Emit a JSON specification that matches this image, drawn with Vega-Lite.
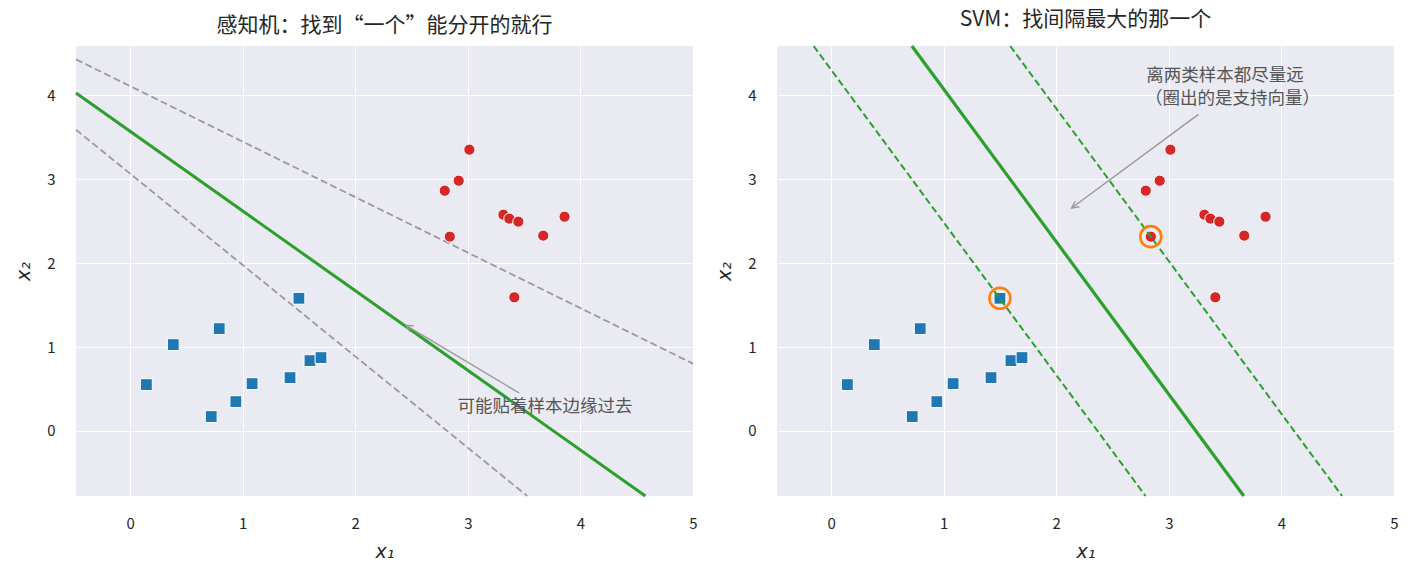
{
  "$schema": "https://vega.github.io/schema/vega-lite/v6.json",
  "background": "white",
  "padding": {"left": 14, "top": 8, "right": 5, "bottom": 5},
  "spacing": 84,
  "bounds": "flush",
  "datasets": {
    "blue": [
      {"x1": 0.145, "x2": 0.553},
      {"x1": 0.384, "x2": 1.03},
      {"x1": 0.792, "x2": 1.22},
      {"x1": 0.721, "x2": 0.172},
      {"x1": 0.94, "x2": 0.35},
      {"x1": 1.084, "x2": 0.565},
      {"x1": 1.421, "x2": 0.636},
      {"x1": 1.598, "x2": 0.839},
      {"x1": 1.696, "x2": 0.875},
      {"x1": 1.5, "x2": 1.582}
    ],
    "red": [
      {"x1": 3.014, "x2": 3.354},
      {"x1": 2.919, "x2": 2.984},
      {"x1": 2.795, "x2": 2.865},
      {"x1": 3.316, "x2": 2.579},
      {"x1": 3.369, "x2": 2.532},
      {"x1": 3.449, "x2": 2.496},
      {"x1": 3.859, "x2": 2.555},
      {"x1": 3.67, "x2": 2.329},
      {"x1": 2.84, "x2": 2.317},
      {"x1": 3.413, "x2": 1.594}
    ],
    "lines": [
      {"name": "perc_main", "x1": -0.48, "x2": 4.029},
      {"name": "perc_main", "x1": 4.577, "x2": -0.775},
      {"name": "perc_up", "x1": -0.48, "x2": 4.43},
      {"name": "perc_up", "x1": 5.0, "x2": 0.803},
      {"name": "perc_low", "x1": -0.48, "x2": 3.592},
      {"name": "perc_low", "x1": 3.528, "x2": -0.775},
      {"name": "svm_main", "x1": 0.718, "x2": 4.59},
      {"name": "svm_main", "x1": 3.666, "x2": -0.775},
      {"name": "svm_m1", "x1": -0.155, "x2": 4.59},
      {"name": "svm_m1", "x1": 2.793, "x2": -0.775},
      {"name": "svm_m2", "x1": 1.591, "x2": 4.59},
      {"name": "svm_m2", "x1": 4.539, "x2": -0.775}
    ],
    "sv": [
      {"x1": 1.5, "x2": 1.582},
      {"x1": 2.84, "x2": 2.317}
    ],
    "arrows": [
      {"panel": "left", "x1": 3.456, "x2": 0.453, "hx": 2.451, "hy": 1.26},
      {"panel": "right", "x1": 3.263, "x2": 3.775, "hx": 2.137, "hy": 2.658}
    ],
    "notes": [
      {"panel": "left", "x1": 2.908, "x2": 0.282, "text": "可能贴着样本边缘过去"},
      {"panel": "right", "x1": 3.50, "x2": 4.238, "text": "离两类样本都尽量远"},
      {"panel": "right", "x1": 3.565, "x2": 3.964, "text": "（圈出的是支持向量）"}
    ]
  },
  "hconcat": [
    {
      "width": 617,
      "height": 450,
      "title": "感知机：找到“一个”能分开的就行",
      "encoding": {
        "x": {"field": "x1", "type": "quantitative", "title": "x₁",
              "scale": {"domain": [-0.48, 5.0], "nice": false, "zero": false},
              "axis": {"values": [0, 1, 2, 3, 4, 5]}},
        "y": {"field": "x2", "type": "quantitative", "title": "x₂",
              "scale": {"domain": [-0.775, 4.59], "nice": false, "zero": false},
              "axis": {"values": [0, 1, 2, 3, 4]}}
      },
      "layer": [
        {
          "data": {"name": "lines"},
          "transform": [{"filter": "datum.name == 'perc_up' || datum.name == 'perc_low'"}],
          "mark": {"type": "line", "color": "#9a9a9a", "strokeWidth": 1.8, "strokeDash": [7, 3.5]},
          "encoding": {"detail": {"field": "name"}}
        },
        {
          "data": {"name": "lines"},
          "transform": [{"filter": "datum.name == 'perc_main'"}],
          "mark": {"type": "line", "color": "#2ca02c", "strokeWidth": 3},
          "encoding": {}
        },
        {
          "data": {"name": "blue"},
          "mark": {"type": "point", "shape": "square", "filled": true, "size": 140, "color": "#1f77b4", "stroke": "white", "strokeWidth": 1, "opacity": 1}
        },
        {
          "data": {"name": "red"},
          "mark": {"type": "point", "shape": "circle", "filled": true, "size": 125, "color": "#d62728", "stroke": "white", "strokeWidth": 1, "opacity": 1}
        },
        {
          "data": {"name": "arrows"},
          "transform": [{"filter": "datum.panel == 'left'"}],
          "mark": {"type": "rule", "color": "#999999", "strokeWidth": 1.4},
          "encoding": {"x2": {"field": "hx"}, "y2": {"field": "hy"}}
        },
        {
          "data": {"name": "arrows"},
          "transform": [{"filter": "datum.panel == 'left'"}],
          "mark": {"type": "point", "shape": "M-0.5,1L0,0L0.5,1", "filled": false, "size": 196, "stroke": "#999999", "strokeWidth": 1.4, "angle": 301, "opacity": 1},
          "encoding": {"x": {"field": "hx", "type": "quantitative"}, "y": {"field": "hy", "type": "quantitative"}}
        },
        {
          "data": {"name": "notes"},
          "transform": [{"filter": "datum.panel == 'left'"}],
          "mark": {"type": "text", "align": "left", "baseline": "middle", "font": "Noto Sans CJK SC", "fontSize": 17.5, "color": "#555555"},
          "encoding": {"text": {"field": "text"}}
        }
      ]
    },
    {
      "width": 617,
      "height": 450,
      "title": "SVM：找间隔最大的那一个",
      "encoding": {
        "x": {"field": "x1", "type": "quantitative", "title": "x₁",
              "scale": {"domain": [-0.48, 5.0], "nice": false, "zero": false},
              "axis": {"values": [0, 1, 2, 3, 4, 5]}},
        "y": {"field": "x2", "type": "quantitative", "title": "x₂",
              "scale": {"domain": [-0.775, 4.59], "nice": false, "zero": false},
              "axis": {"values": [0, 1, 2, 3, 4]}}
      },
      "layer": [
        {
          "data": {"name": "blue"},
          "mark": {"type": "point", "shape": "square", "filled": true, "size": 140, "color": "#1f77b4", "stroke": "white", "strokeWidth": 1, "opacity": 1}
        },
        {
          "data": {"name": "red"},
          "mark": {"type": "point", "shape": "circle", "filled": true, "size": 125, "color": "#d62728", "stroke": "white", "strokeWidth": 1, "opacity": 1}
        },
        {
          "data": {"name": "lines"},
          "transform": [{"filter": "datum.name == 'svm_m1' || datum.name == 'svm_m2'"}],
          "mark": {"type": "line", "color": "#2ca02c", "strokeWidth": 2, "strokeDash": [7, 3.5]},
          "encoding": {"detail": {"field": "name"}}
        },
        {
          "data": {"name": "lines"},
          "transform": [{"filter": "datum.name == 'svm_main'"}],
          "mark": {"type": "line", "color": "#2ca02c", "strokeWidth": 3.2},
          "encoding": {}
        },
        {
          "data": {"name": "sv"},
          "mark": {"type": "point", "shape": "circle", "filled": false, "size": 440, "stroke": "#ff7f0e", "strokeWidth": 2.6, "opacity": 1}
        },
        {
          "data": {"name": "arrows"},
          "transform": [{"filter": "datum.panel == 'right'"}],
          "mark": {"type": "rule", "color": "#999999", "strokeWidth": 1.4},
          "encoding": {"x2": {"field": "hx"}, "y2": {"field": "hy"}}
        },
        {
          "data": {"name": "arrows"},
          "transform": [{"filter": "datum.panel == 'right'"}],
          "mark": {"type": "point", "shape": "M-0.5,1L0,0L0.5,1", "filled": false, "size": 196, "stroke": "#999999", "strokeWidth": 1.4, "angle": 234, "opacity": 1},
          "encoding": {"x": {"field": "hx", "type": "quantitative"}, "y": {"field": "hy", "type": "quantitative"}}
        },
        {
          "data": {"name": "notes"},
          "transform": [{"filter": "datum.panel == 'right'"}],
          "mark": {"type": "text", "align": "center", "baseline": "middle", "font": "Noto Sans CJK SC", "fontSize": 17.5, "color": "#555555"},
          "encoding": {"text": {"field": "text"}}
        }
      ]
    }
  ],
  "config": {
    "view": {"fill": "#eaeaf2", "stroke": null},
    "title": {"font": "Noto Sans CJK SC", "fontSize": 21, "fontWeight": "normal", "color": "#262626", "offset": 10},
    "axis": {
      "domain": false,
      "ticks": false,
      "tickSize": 0,
      "grid": true,
      "gridColor": "white",
      "gridWidth": 1,
      "labelFlush": false,
      "labelFont": "Noto Sans CJK SC",
      "labelFontSize": 15,
      "labelColor": "#262626",
      "titleFont": "DejaVu Sans",
      "titleFontStyle": "italic",
      "titleFontWeight": "normal",
      "titleFontSize": 19,
      "titleColor": "#262626"
    },
    "axisX": {"labelPadding": 20, "titlePadding": 11},
    "axisY": {"labelPadding": 21, "titlePadding": 13}
  }
}
